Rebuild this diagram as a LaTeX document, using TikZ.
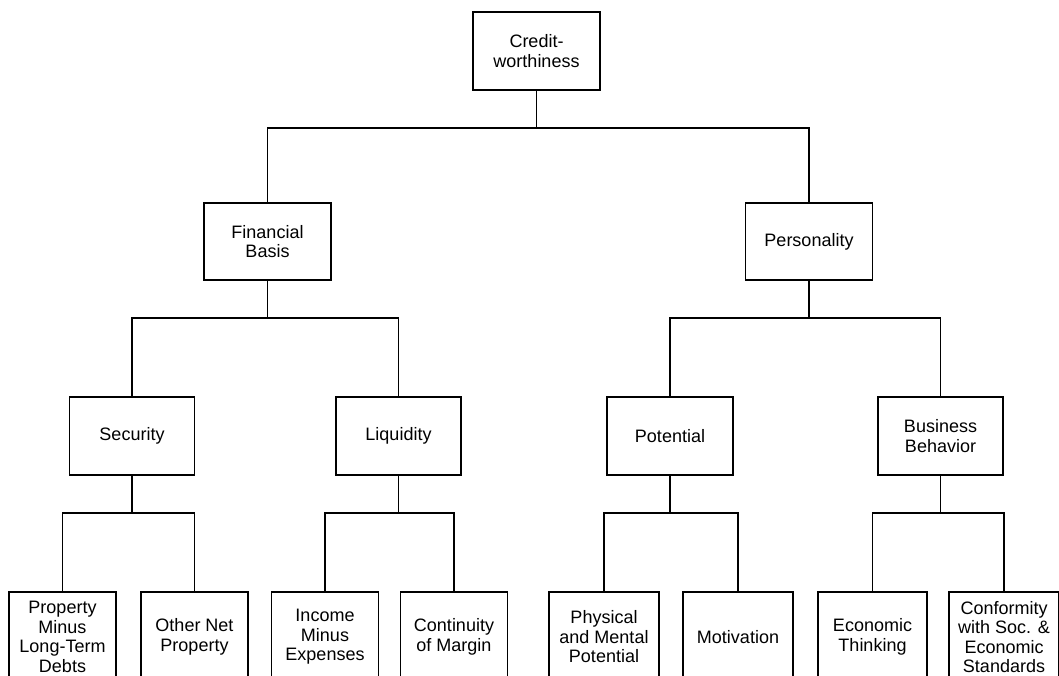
\documentclass[tikz,border=0pt]{standalone}
\usepackage{fontspec}
\setmainfont{Liberation Sans}
\begin{document}
\begin{tikzpicture}[x=1pt,y=-1pt,
  box/.style={draw,line width=1.9pt,align=center,inner sep=0pt,
    font=\fontsize{18}{19.5}\selectfont},
  conn/.style={line width=1.9pt}]
\useasboundingbox (0,0) rectangle (1059,675);
\clip (0,0) rectangle (1059,675);
% level 0
\node[box,minimum width=127,minimum height=78] (root) at (536.5,51) {Credit-\\worthiness};
% level 1
\node[box,minimum width=127,minimum height=77] (fin) at (267.5,241.5) {Financial\\Basis};
\node[box,minimum width=127,minimum height=77] (pers) at (809,241.5) {Personality};
% level 2
\node[box,minimum width=125,minimum height=78] (sec) at (132,436) {Security};
\node[box,minimum width=125,minimum height=78] (liq) at (398.5,436) {Liquidity};
\node[box,minimum width=126,minimum height=78] (pot) at (670,436) {Potential};
\node[box,minimum width=125,minimum height=78] (beh) at (940.5,436) {Business\\Behavior};
% leaves
\node[box,minimum width=107,minimum height=90] (l1) at (62.5,637) {Property\\Minus\\Long-Term\\Debts};
\node[box,minimum width=107,minimum height=90] (l2) at (194.5,637) {Other Net\\Property};
\node[box,minimum width=107,minimum height=90] (l3) at (325,637) {Income\\Minus\\Expenses};
\node[box,minimum width=107,minimum height=90] (l4) at (454,637) {Continuity\\of Margin};
\node[box,minimum width=110,minimum height=90] (l5) at (604,637) {Physical\\and Mental\\Potential};
\node[box,minimum width=110,minimum height=90] (l6) at (738,637) {Motivation};
\node[box,minimum width=109,minimum height=90] (l7) at (872.5,637) {Economic\\Thinking};
\node[box,minimum width=110,minimum height=90] (l8) at (1004,637) {Conformity\\with Soc. \&\\Economic\\Standards};
% connectors
\draw[conn] (root.south) -- (root.south |- 0,128) -| (fin.north);
\draw[conn] (root.south) -- (root.south |- 0,128) -| (pers.north);
\draw[conn] (fin.south) -- (fin.south |- 0,318) -| (sec.north);
\draw[conn] (fin.south) -- (fin.south |- 0,318) -| (liq.north);
\draw[conn] (pers.south) -- (pers.south |- 0,318) -| (pot.north);
\draw[conn] (pers.south) -- (pers.south |- 0,318) -| (beh.north);
\draw[conn] (sec.south) -- (sec.south |- 0,513) -| (l1.north);
\draw[conn] (sec.south) -- (sec.south |- 0,513) -| (l2.north);
\draw[conn] (liq.south) -- (liq.south |- 0,513) -| (l3.north);
\draw[conn] (liq.south) -- (liq.south |- 0,513) -| (l4.north);
\draw[conn] (pot.south) -- (pot.south |- 0,513) -| (l5.north);
\draw[conn] (pot.south) -- (pot.south |- 0,513) -| (l6.north);
\draw[conn] (beh.south) -- (beh.south |- 0,513) -| (l7.north);
\draw[conn] (beh.south) -- (beh.south |- 0,513) -| (l8.north);
\end{tikzpicture}
\end{document}
